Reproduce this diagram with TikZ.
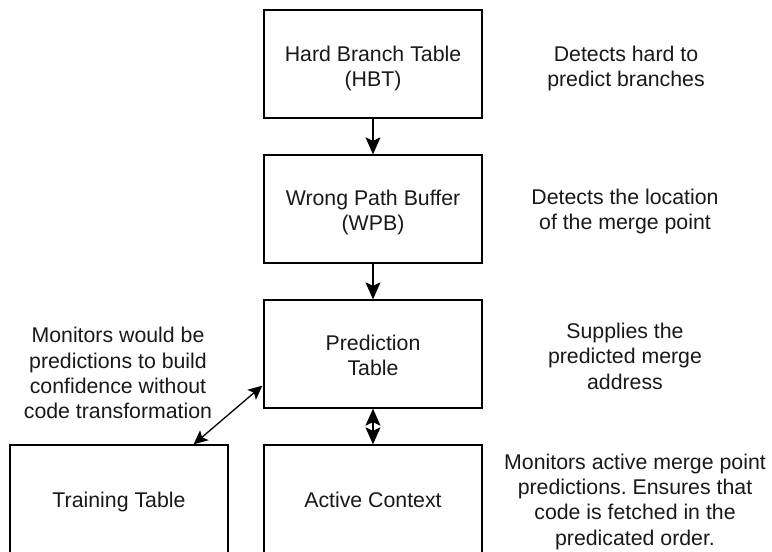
\documentclass[tikz,border=0pt]{standalone}
\usepackage{fontspec}
\setmainfont{Liberation Sans}
\frenchspacing
\usetikzlibrary{arrows.meta,calc}
\begin{document}
\begin{tikzpicture}[x=1pt,y=-1pt,
  box/.style={draw=black,line width=1.3pt,minimum width=218pt,minimum height=108pt,inner sep=0pt},
  txt/.style={align=center,inner sep=0pt,text depth=0pt,font=\fontsize{21.3pt}{25.4pt}\selectfont,text=black!90},
  tip/.style={Stealth[length=17pt,width=15pt,inset=3.5pt]},
  smalltip/.style={Stealth[length=14pt,width=13pt,inset=3pt]},
  conn/.style={line width=1.3pt,-{Stealth[length=17pt,width=15pt,inset=3.5pt]}},
  dconn/.style={line width=1.3pt,{Stealth[length=17pt,width=15pt,inset=3.5pt]}-{Stealth[length=17pt,width=15pt,inset=3.5pt]}},
  dconn2/.style={line width=1.3pt,{Stealth[length=14pt,width=13pt,inset=3pt]}-{Stealth[length=14pt,width=13pt,inset=3pt]}}]
\useasboundingbox (0,0) rectangle (772,552);
\clip (0,0) rectangle (772,552);
\fill[white] (0,0) rectangle (772,552);
\node[box] (hbt) at (373,64) {};
\node[box] (wpb) at (373,209) {};
\node[box] (pred) at (373,354) {};
\node[box] (act) at (373,499) {};
\node[box] (train) at (119,499) {};
\node[txt] (hbtt) at (373,66.5) {Hard Branch Table\\(HBT)};
\node[txt] (wpbt) at (373,210.5) {Wrong Path Buffer\\(WPB)};
\node[txt] (predt) at (373,355) {Prediction\\Table};
\node[txt] (actt) at (373,500) {Active Context};
\node[txt] (traint) at (119,500) {Training Table};
\node[txt] (n1) at (626,66) {Detects hard to\\predict branches};
\node[txt] (n2) at (625,209.5) {Detects the location\\of the merge point};
\node[txt] (n3) at (625,356) {Supplies the\\predicted merge\\address};
\node[txt] (n4) at (635,499.5) {Monitors active merge point\\predictions. Ensures that\\code is fetched in the\\predicated order.};
\node[txt] (n5) at (118,373) {Monitors would be\\predictions to build\\confidence without\\code transformation};
\draw[conn] (hbt) -- (wpb);
\draw[conn] (wpb) -- (pred);
\draw[dconn] (pred) -- (act);
\coordinate (pl) at ($(pred.south west)+(-1,-23)$);
\coordinate (tt) at ($(train.north east)+(-35,0)$);
\draw[dconn2] (pl) -- (tt);
\end{tikzpicture}
\end{document}
